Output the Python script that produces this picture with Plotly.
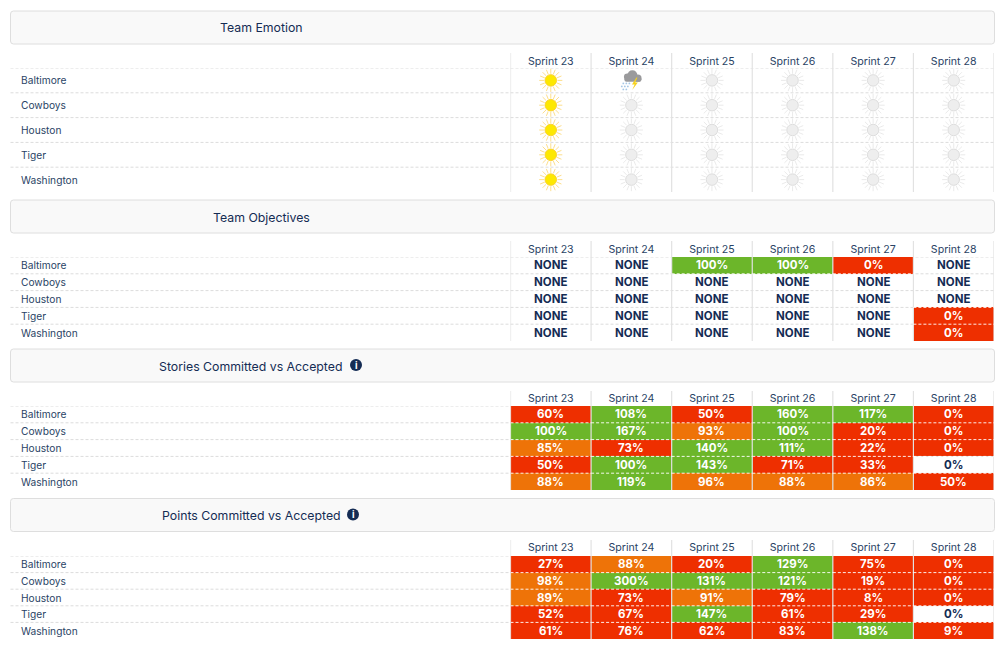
import base64
import plotly.graph_objects as go

W, H = 999, 647
FONT = 'Inter, "Open Sans", sans-serif'
NAVY = '#142c54'
LABEL = '#2a4365'
GRID = '#e2e2e2'
DASH = '#dcdcdc'
GREEN = '#6cb62a'
ORANGE = '#ee7308'
RED = '#ee2f00'

sprints = ['Sprint 23', 'Sprint 24', 'Sprint 25', 'Sprint 26', 'Sprint 27', 'Sprint 28']
teams = ['Baltimore', 'Cowboys', 'Houston', 'Tiger', 'Washington']

# sun = good, storm = bad, None = not rated yet
emotion = [
    ['sun', 'storm', None, None, None, None],
    ['sun', None, None, None, None, None],
    ['sun', None, None, None, None, None],
    ['sun', None, None, None, None, None],
    ['sun', None, None, None, None, None],
]

# None = no objectives set
objectives = [
    [None, None, 100, 100, 0, None],
    [None, None, None, None, None, None],
    [None, None, None, None, None, None],
    [None, None, None, None, None, 0],
    [None, None, None, None, None, 0],
]

stories = [
    [60, 108, 50, 160, 117, 0],
    [100, 167, 93, 100, 20, 0],
    [85, 73, 140, 111, 22, 0],
    [50, 100, 143, 71, 33, 0],
    [88, 119, 96, 88, 86, 50],
]

points = [
    [27, 88, 20, 129, 75, 0],
    [98, 300, 131, 121, 19, 0],
    [89, 73, 91, 79, 8, 0],
    [52, 67, 147, 61, 29, 0],
    [61, 76, 62, 83, 138, 9],
]

# cells with nothing committed stay uncoloured (stories and points tables only)
uncoloured = [('Tiger', 'Sprint 28')]

# pixel layout of the four panels
panels = [
    dict(title='Team Emotion', cx=261, head=11, grid=53, top=68, bottom=192, info=None, standoff=0),
    dict(title='Team Objectives', cx=261, head=200, grid=241, top=257, bottom=341, info=None, standoff=1),
    dict(title='Stories Committed vs Accepted', cx=250.5, head=349, grid=391, top=406, bottom=490, info=356, standoff=1),
    dict(title='Points Committed vs Accepted', cx=251, head=498.5, grid=540, top=556, bottom=639, info=353, standoff=2),
]
COL_LEFT, COL_RIGHT = 510.5, 994


def px(x):
    return x / W


def py(y):
    return 1 - y / H


def level(value, blanks):
    if value is None or blanks:
        return None
    if value >= 100:
        return 3
    if value >= 85:
        return 2
    return 1


def header_path(x0, y0, x1, y1, r=3):
    xr, yr = r / W, r / H
    a, b, c, d = px(x0), px(x1), py(y0), py(y1)
    return (f'M {a + xr},{c} L {b - xr},{c} Q {b},{c} {b},{c - yr} L {b},{d + yr} '
            f'Q {b},{d} {b - xr},{d} L {a + xr},{d} Q {a},{d} {a},{d + yr} '
            f'L {a},{c - yr} Q {a},{c} {a + xr},{c} Z')


fig = go.Figure()
shapes, annotations, images = [], [], []
axes = {}

for n, p in enumerate(panels, start=1):
    suffix = '' if n == 1 else str(n)
    axes[f'xaxis{suffix}'] = dict(
        type='category', categoryorder='array', categoryarray=sprints,
        domain=[px(COL_LEFT), px(COL_RIGHT)], range=[-0.5, 5.5], side='top',
        anchor=f'y{suffix}', showgrid=False, zeroline=False, showline=False, ticks='',
        tickfont=dict(family=FONT, size=10.6, color=LABEL), fixedrange=True,
        ticklabelstandoff=p['standoff'],
    )
    axes[f'yaxis{suffix}'] = dict(
        type='category', categoryorder='array', categoryarray=teams,
        domain=[py(p['bottom']), py(p['top'])], range=[4.5, -0.5],
        anchor=f'x{suffix}', showgrid=False, zeroline=False, showline=False,
        showticklabels=False, ticks='', fixedrange=True,
    )

    # header strip
    shapes.append(dict(type='path', path=header_path(10.5, p['head'], 994.5, p['head'] + 33),
                       xref='paper', yref='paper', fillcolor='#f9f9f9',
                       line=dict(color='#dedede', width=1), layer='below'))
    annotations.append(dict(text=p['title'], xref='paper', yref='paper', x=px(p['cx']), y=py(p['head'] + 17),
                            xanchor='center', yanchor='middle', showarrow=False,
                            font=dict(family=FONT, size=12.3, color=NAVY)))
    if p['info']:
        shapes.append(dict(type='circle', xref='paper', yref='paper',
                           x0=px(p['info'] - 6), x1=px(p['info'] + 6),
                           y0=py(p['head'] + 22), y1=py(p['head'] + 10),
                           fillcolor=NAVY, line=dict(width=0), layer='above'))
        annotations.append(dict(text='<b>i</b>', xref='paper', yref='paper', x=px(p['info']), y=py(p['head'] + 16),
                                xanchor='center', yanchor='middle', showarrow=False,
                                font=dict(family=FONT, size=9.5, color='white')))

    # team labels and dashed row lines
    xa, ya = f'x{suffix}', f'y{suffix}'
    for j, team in enumerate(teams):
        annotations.append(dict(text=team, xref='paper', yref=ya, x=px(18.5), y=j, xanchor='left', yanchor='middle',
                                showarrow=False, font=dict(family=FONT, size=10.2, color=LABEL)))
        shapes.append(dict(type='line', xref='paper', yref=ya, x0=px(10.5), x1=px(COL_RIGHT), y0=j - 0.5, y1=j - 0.5,
                           line=dict(color=DASH, width=1, dash='3px,2px'), layer='below'))

    # column rules
    for i in range(len(sprints) + 1):
        shapes.append(dict(type='line', xref=xa, yref='paper', x0=i - 0.5, x1=i - 0.5,
                           y0=py(p['grid']), y1=py(p['bottom']),
                           line=dict(color=GRID, width=1.2), layer='above'))

# Team Emotion icons
for state, ray, disc, edge in [('sun', '#fbd66f', '#fde800', '#fbd22e'), (None, '#e4e4e4', '#eeeeee', '#dddddd')]:
    xs = [sprints[i] for row in emotion for i, v in enumerate(row) if v == state]
    ys = [teams[j] for j, row in enumerate(emotion) for v in row if v == state]
    for angle in [0, 22.5, 45, 67.5]:
        fig.add_trace(go.Scatter(x=xs, y=ys, mode='markers', hoverinfo='skip', showlegend=False,
                                 marker=dict(symbol='cross-thin-open', size=16.5, angle=angle, color=ray,
                                             line=dict(color=ray, width=0.8))))
    fig.add_trace(go.Scatter(x=xs, y=ys, mode='markers', hoverinfo='skip', showlegend=False,
                             marker=dict(symbol='circle', size=13.5, color='white', line=dict(width=0))))
    fig.add_trace(go.Scatter(x=xs, y=ys, mode='markers', showlegend=False,
                             marker=dict(symbol='circle', size=11.5, color=disc, line=dict(color=edge, width=1))))

storm_svg = (
    '<svg xmlns="http://www.w3.org/2000/svg" viewBox="0 0 24 22">'
    '<g fill="#9a9a9c"><circle cx="8" cy="7.5" r="3.4"/><circle cx="13" cy="6" r="5"/>'
    '<circle cx="18.5" cy="8.8" r="3.6"/><rect x="5" y="8" width="17" height="4.4" rx="2.2"/></g>'
    '<path d="M17 8 L12.6 15 L15.2 15 L12.8 20.5 L18.4 13 L15.8 13 L18 8 Z" fill="#f7d21c"/>'
    '<g fill="#a7c8e6"><circle cx="4" cy="14" r=".9"/><circle cx="7" cy="14" r=".9"/><circle cx="10" cy="14" r=".9"/>'
    '<circle cx="2.5" cy="17" r=".9"/><circle cx="5.5" cy="17" r=".9"/><circle cx="8.5" cy="17" r=".9"/>'
    '<circle cx="4" cy="20" r=".9"/><circle cx="7" cy="20" r=".9"/></g></svg>'
)
storm_uri = 'data:image/svg+xml;base64,' + base64.b64encode(storm_svg.encode()).decode()
for j, row in enumerate(emotion):
    for i, v in enumerate(row):
        if v == 'storm':
            images.append(dict(source=storm_uri, xref='x', yref='y', x=i, y=j, sizex=0.3, sizey=0.92,
                               xanchor='center', yanchor='middle', sizing='contain', layer='above'))

# percentage tables
scale = [[0, RED], [0.33, RED], [0.33, ORANGE], [0.66, ORANGE], [0.66, GREEN], [1, GREEN]]
for n, table in [(2, objectives), (3, stories), (4, points)]:
    z = [[level(v, n > 2 and (t, s) in uncoloured) for v, s in zip(row, sprints)] for row, t in zip(table, teams)]
    fig.add_trace(go.Heatmap(x=sprints, y=teams, z=z, zmin=1, zmax=3, colorscale=scale, showscale=False,
                             hoverinfo='skip', xaxis=f'x{n}', yaxis=f'y{n}'))
    for j, row in enumerate(table):
        for i, v in enumerate(row):
            annotations.append(dict(
                text='NONE' if v is None else f'{v}%', xref=f'x{n}', yref=f'y{n}', x=sprints[i], y=teams[j],
                xanchor='center', yanchor='middle', showarrow=False,
                font=dict(family=FONT, size=11.5, weight=700, color='white' if z[j][i] is not None else NAVY)))
            # white dashes on the edge of a coloured cell
            above = z[j - 1][i] if j > 0 else None
            if j > 0 and (z[j][i] is not None or above is not None):
                shapes.append(dict(type='line', xref=f'x{n}', yref=f'y{n}', x0=i - 0.5, x1=i + 0.5,
                                   y0=j - 0.5, y1=j - 0.5, layer='above',
                                   line=dict(color='rgba(255,255,255,0.9)', width=1, dash='3px,2px')))

fig.update_layout(
    width=W, height=H, margin=dict(l=0, r=0, t=0, b=0),
    paper_bgcolor='white', plot_bgcolor='rgba(0,0,0,0)',
    showlegend=False, shapes=shapes, annotations=annotations, images=images,
    **axes,
)

fig.write_html('out.html', config={'displayModeBar': False},
               post_script="document.body.style.margin='0';document.body.style.overflow='hidden';")
